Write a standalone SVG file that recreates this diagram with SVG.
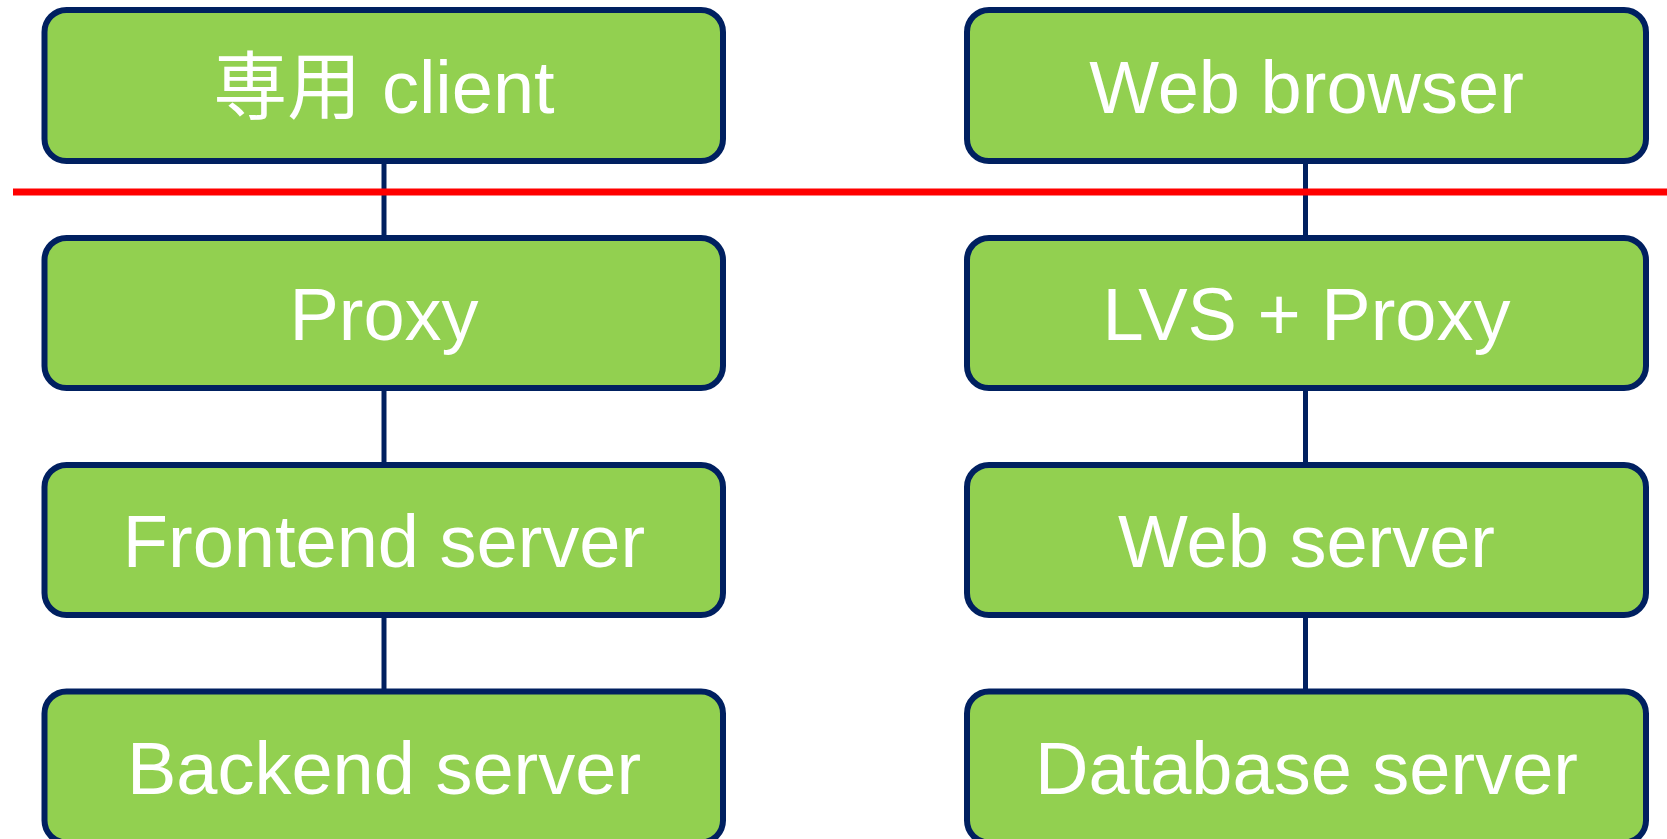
<svg xmlns="http://www.w3.org/2000/svg" width="1667" height="839" viewBox="0 0 1667 839">
  <style>
    .box { fill: #92D050; stroke: #002060; stroke-width: 6; }
    .lbl { fill: #FFFFFF; font-family: "Liberation Sans", "Noto Sans CJK JP", Arial, sans-serif; font-size: 74px; text-anchor: middle; }
    .link { stroke: #002060; stroke-width: 5; fill: none; }
    .border { stroke: #FF0000; stroke-width: 7; fill: none; }
  </style>
  <rect width="1667" height="839" fill="#FFFFFF"/>

  <!-- vertical links between tiers -->
  <g id="connectors">
    <line class="link" x1="384" y1="161" x2="384" y2="238"/>
    <line class="link" x1="384" y1="388" x2="384" y2="465"/>
    <line class="link" x1="384" y1="615" x2="384" y2="691"/>
    <line class="link" x1="1305.5" y1="161" x2="1305.5" y2="238"/>
    <line class="link" x1="1305.5" y1="388" x2="1305.5" y2="465"/>
    <line class="link" x1="1305.5" y1="615" x2="1305.5" y2="691"/>
  </g>

  <!-- client / server boundary -->
  <line id="boundary" class="border" x1="13" y1="192" x2="1667" y2="192"/>

  <!-- left stack -->
  <g id="dedicated-client">
    <rect class="box" x="44.5" y="10" width="678.5" height="151" rx="22"/>
    <text class="lbl" x="384" y="113">専用 client</text>
  </g>
  <g id="proxy">
    <rect class="box" x="44.5" y="238" width="678.5" height="150" rx="22"/>
    <text class="lbl" x="384" y="340">Proxy</text>
  </g>
  <g id="frontend-server">
    <rect class="box" x="44.5" y="465" width="678.5" height="150" rx="22"/>
    <text class="lbl" x="384" y="567">Frontend server</text>
  </g>
  <g id="backend-server">
    <rect class="box" x="44.5" y="691.5" width="678.5" height="151" rx="22"/>
    <text class="lbl" x="384" y="794">Backend server</text>
  </g>

  <!-- right stack -->
  <g id="web-browser">
    <rect class="box" x="967" y="10" width="679" height="151" rx="22"/>
    <text class="lbl" x="1306.5" y="113">Web browser</text>
  </g>
  <g id="lvs-proxy">
    <rect class="box" x="967" y="238" width="679" height="150" rx="22"/>
    <text class="lbl" x="1306.5" y="340">LVS + Proxy</text>
  </g>
  <g id="web-server">
    <rect class="box" x="967" y="465" width="679" height="150" rx="22"/>
    <text class="lbl" x="1306.5" y="567">Web server</text>
  </g>
  <g id="database-server">
    <rect class="box" x="967" y="691.5" width="679" height="151" rx="22"/>
    <text class="lbl" x="1306.5" y="794">Database server</text>
  </g>
</svg>
